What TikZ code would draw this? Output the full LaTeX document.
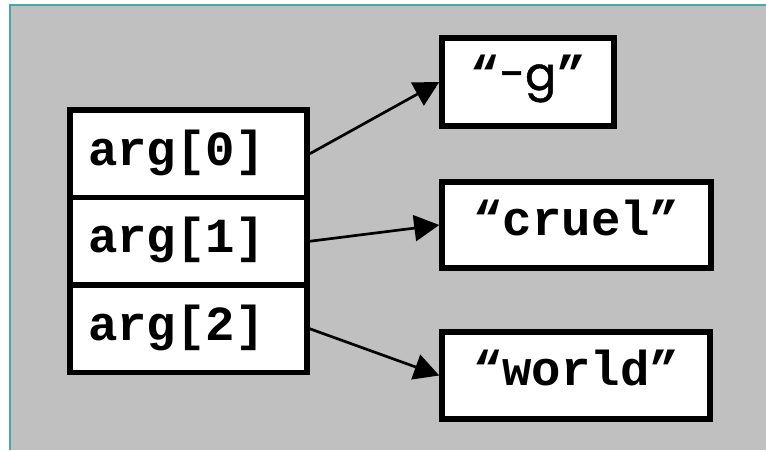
\documentclass[tikz,border=0pt]{standalone}
\usepackage{fontspec}
\setmonofont{Liberation Mono}
\newfontfamily\geofont{Poppins}[FakeBold=1]
\usetikzlibrary{arrows.meta}
\definecolor{panelgray}{HTML}{C0C0C0}
\definecolor{frameteal}{HTML}{4AA9A4}
\begin{document}
\begin{tikzpicture}[x=1pt,y=-1pt,
  box/.style={draw=black,line width=5.5pt,fill=white,rectangle,inner sep=0pt,
    font=\ttfamily\bfseries\fontsize{49}{55}\selectfont,
    text height=34pt,text depth=14pt},
  cell/.style={box,minimum width=237pt,minimum height=87.5pt,
    inner xsep=18pt,text width=201pt,align=left,
    text height=35pt,text depth=12.5pt},
  ptr/.style={line width=2.7pt,-{Triangle[length=25pt,width=26pt]}}]
\useasboundingbox (0,0) rectangle (766,450);
% slide panel
\fill[panelgray] (10,5) rectangle (766,450);
\draw[frameteal,line width=1.5pt] (10,450) -- (10,5) -- (766,5);

% the argument array
\node[cell] (a0) at (188.5,153.75) {arg[0]};
\node[cell] (a1) at (188.5,241.25) {arg[1]};
\node[cell] (a2) at (188.5,328.75) {arg[2]};

% the strings
\node[box,minimum width=172pt,minimum height=88pt,text height=30pt,text depth=14pt] (sg) at (528,82)
  {“{\geofont\mdseries\fontsize{46}{50}\selectfont-g}”};
\node[box,minimum width=269pt,minimum height=86pt] (sc) at (576.5,225) {“cruel”};
\node[box,minimum width=268pt,minimum height=87pt] (sw) at (576,375.5) {“world”};

% references
\draw[ptr] (a0.east) -- (sg.west);
\draw[ptr] (a1.east) -- (sc.west);
\draw[ptr] (a2.east) -- (sw.west);
\end{tikzpicture}
\end{document}
